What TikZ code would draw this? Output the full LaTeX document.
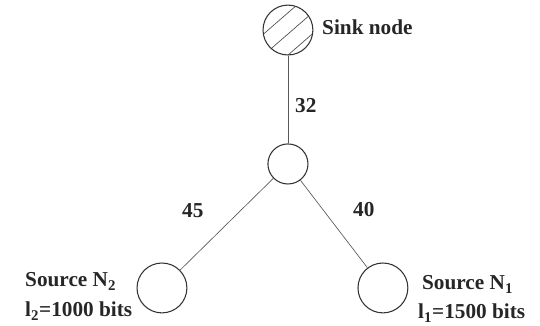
\documentclass[tikz,border=0pt]{standalone}
\usepackage{fontspec}
\setmainfont{Liberation Serif}
\usetikzlibrary{positioning}

\tikzset{
  station/.style={circle, draw=black!80, line width=0.8pt, minimum size=1.32cm, inner sep=0pt},
  relay/.style={station, minimum size=1.06cm},
  sink/.style={station, path picture={
      \foreach \xa/\ya/\xb/\yb in {-0.981/-0.396/0.529/0.916, -0.703/-0.716/0.807/0.596, -0.427/-1.034/1.083/0.278}
        \draw[black!70, line width=0.5pt]
          ([shift={(\xa,\ya)}]path picture bounding box.center) --
          ([shift={(\xb,\yb)}]path picture bounding box.center);}},
  link/.style={draw=black!65, line width=0.5pt},
  tag/.style={font=\fontsize{16}{19}\selectfont\bfseries, text=black!85, inner sep=0pt, anchor=base west},
}

\begin{document}
\begin{tikzpicture}
  \useasboundingbox (0,0) rectangle (14.29,8.625);
  % nodes
  \node[sink] (sink) at (7.62,7.83) {};
  \node[relay] (relay) at (7.62,4.286) {};
  \node[station] (n2) at (4.286,1.005) {};
  \node[station] (n1) at (10.133,1.005) {};
  % links
  \draw[link] (sink) -- (relay);
  \draw[link] (relay) -- (n2);
  \draw[link] (relay) -- (n1);
  % labels
  \node[tag] (sinklbl) at (8.52,7.70) {Sink node};
  \node[tag] (w32) at (7.805,5.636) {32};
  \node[tag] (w45) at (4.815,2.857) {45};
  \node[tag] (w40) at (9.34,2.884) {40};
  \node[tag] (n1name) at (11.165,0.952) {Source N\textsubscript{1}};
  \node[tag] (n1len) at (11.06,0.19) {l\textsubscript{1}=1500 bits};
  \node[tag] (n2name) at (0.661,1.032) {Source N\textsubscript{2}};
  \node[tag] (n2len) at (0.661,0.238) {l\textsubscript{2}=1000 bits};
\end{tikzpicture}
\end{document}
